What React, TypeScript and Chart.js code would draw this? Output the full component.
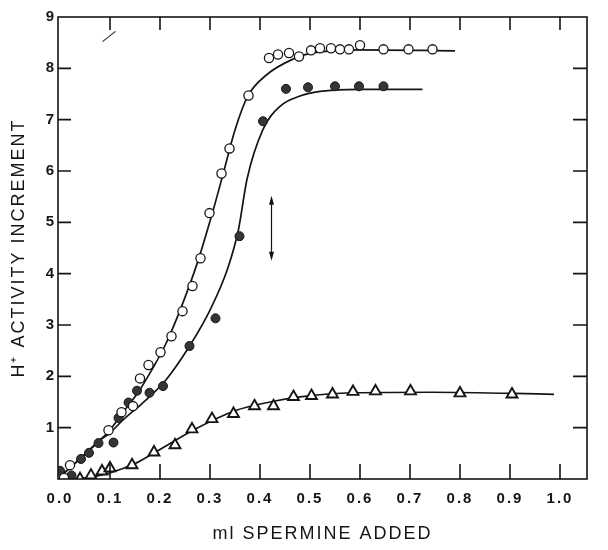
import { useEffect, useRef } from 'react';
import Chart from 'chart.js/auto';

// axis ticks
const xTicks = [0, 0.1, 0.2, 0.3, 0.4, 0.5, 0.6, 0.7, 0.8, 0.9, 1.0];
const yTicks = [0, 1, 2, 3, 4, 5, 6, 7, 8, 9];

// open circles
const openX = [0.008, 0.02, 0.097, 0.123, 0.146, 0.16, 0.177, 0.201, 0.223, 0.245, 0.265, 0.281, 0.299, 0.323, 0.339, 0.377, 0.418, 0.436, 0.458, 0.478, 0.502, 0.52, 0.542, 0.56, 0.578, 0.6, 0.647, 0.697, 0.745];
const openY = [0.02, 0.27, 0.95, 1.3, 1.42, 1.96, 2.22, 2.47, 2.78, 3.27, 3.76, 4.3, 5.18, 5.95, 6.44, 7.47, 8.2, 8.27, 8.3, 8.23, 8.35, 8.39, 8.39, 8.37, 8.37, 8.45, 8.37, 8.37, 8.37];

// filled circles
const filledX = [0.0, 0.023, 0.042, 0.058, 0.077, 0.107, 0.117, 0.137, 0.154, 0.179, 0.206, 0.259, 0.311, 0.359, 0.406, 0.452, 0.496, 0.55, 0.598, 0.647];
const filledY = [0.16, 0.07, 0.39, 0.51, 0.7, 0.71, 1.19, 1.49, 1.72, 1.68, 1.81, 2.59, 3.13, 4.73, 6.97, 7.6, 7.63, 7.65, 7.65, 7.65];

// triangles
const triX = [0.04, 0.062, 0.084, 0.1, 0.144, 0.188, 0.23, 0.264, 0.304, 0.347, 0.389, 0.427, 0.467, 0.503, 0.545, 0.586, 0.631, 0.701, 0.8, 0.904];
const triY = [0.0, 0.07, 0.15, 0.21, 0.27, 0.52, 0.66, 0.97, 1.17, 1.27, 1.42, 1.42, 1.6, 1.62, 1.65, 1.7, 1.71, 1.71, 1.67, 1.65];

// fitted curves
const curveAX = [0.002, 0.042, 0.078, 0.098, 0.126, 0.157, 0.185, 0.211, 0.241, 0.275, 0.305, 0.327, 0.35, 0.375, 0.414, 0.466, 0.5, 0.6, 0.79];
const curveAY = [0.06, 0.41, 0.74, 0.93, 1.3, 1.7, 2.15, 2.62, 3.31, 4.22, 5.19, 5.97, 6.8, 7.45, 7.88, 8.18, 8.29, 8.36, 8.34];
const curveBX = [0.002, 0.042, 0.078, 0.1, 0.125, 0.165, 0.211, 0.261, 0.301, 0.335, 0.357, 0.374, 0.406, 0.44, 0.48, 0.52, 0.6, 0.725];
const curveBY = [0.06, 0.41, 0.74, 0.9, 1.14, 1.48, 1.92, 2.62, 3.31, 4.09, 4.86, 5.84, 6.81, 7.26, 7.46, 7.55, 7.59, 7.59];
const curveCX = [0.04, 0.1, 0.15, 0.19, 0.27, 0.35, 0.42, 0.48, 0.586, 0.745, 0.988];
const curveCY = [0.0, 0.12, 0.3, 0.52, 0.97, 1.33, 1.5, 1.6, 1.68, 1.69, 1.65];

// double arrow (error range) and stray pen mark
const arrowX = [0.423, 0.423];
const arrowY = [4.25, 5.52];
const markX = [0.085, 0.111];
const markY = [8.52, 8.72];

const INK = '#151515';
const pts = (xs: number[], ys: number[]) => xs.map((x, i) => ({ x, y: ys[i] }));

const framePlugin = {
  id: 'frame',
  beforeDraw(chart: any) {
    chart.ctx.letterSpacing = '2px';
  },
  afterDatasetsDraw(chart: any) {
    const { ctx, chartArea, scales } = chart;
    const { left, right, top, bottom } = chartArea;
    const x = scales.x;
    const y = scales.y;
    ctx.save();
    ctx.strokeStyle = INK;
    ctx.lineWidth = 1.6;
    ctx.strokeRect(left, top, right - left, bottom - top);
    ctx.beginPath();
    xTicks.forEach((v) => {
      if (v === 0) return;
      const px = x.getPixelForValue(v);
      ctx.moveTo(px, bottom);
      ctx.lineTo(px, bottom - 15);
      ctx.moveTo(px, top);
      ctx.lineTo(px, top + 13);
    });
    yTicks.forEach((v) => {
      if (v === 0 || v === 9) return;
      const py = y.getPixelForValue(v);
      ctx.moveTo(left, py);
      ctx.lineTo(left + 13, py);
      ctx.moveTo(right, py);
      ctx.lineTo(right - 14, py);
    });
    ctx.stroke();

    // double-headed arrow
    const ax = x.getPixelForValue(arrowX[0]);
    const ay0 = y.getPixelForValue(arrowY[0]);
    const ay1 = y.getPixelForValue(arrowY[1]);
    ctx.lineWidth = 1.2;
    ctx.beginPath();
    ctx.moveTo(ax, ay0 - 4);
    ctx.lineTo(ax, ay1 + 4);
    ctx.stroke();
    ctx.fillStyle = INK;
    ctx.beginPath();
    ctx.moveTo(ax, ay1);
    ctx.lineTo(ax - 2.5, ay1 + 9);
    ctx.lineTo(ax + 2.5, ay1 + 9);
    ctx.closePath();
    ctx.moveTo(ax, ay0);
    ctx.lineTo(ax - 2.5, ay0 - 9);
    ctx.lineTo(ax + 2.5, ay0 - 9);
    ctx.closePath();
    ctx.fill();
    ctx.restore();
  },
};

const App = () => {
  const chartRef = useRef<HTMLCanvasElement>(null);
  const chartInstance = useRef<Chart | null>(null);

  useEffect(() => {
    document.body.style.margin = '0';
    const canvas = chartRef.current;
    if (!canvas) return;
    const ctx = canvas.getContext('2d');
    if (!ctx) return;
    if (chartInstance.current) chartInstance.current.destroy();

    const curve = (xs: number[], ys: number[]) => ({
      data: pts(xs, ys),
      showLine: true,
      borderColor: INK,
      borderWidth: 1.7,
      pointRadius: 0,
      tension: 0.4,
      cubicInterpolationMode: 'monotone' as const,
      order: 5,
    });

    chartInstance.current = new Chart(ctx, {
      type: 'scatter',
      data: {
        datasets: [
          {
            label: 'open',
            data: pts(openX, openY),
            pointStyle: 'circle',
            pointRadius: 4.6,
            backgroundColor: '#ffffff',
            borderColor: INK,
            borderWidth: 1.3,
            order: 1,
          },
          {
            label: 'filled',
            data: pts(filledX, filledY),
            pointStyle: 'circle',
            pointRadius: 4.5,
            backgroundColor: '#353535',
            borderColor: INK,
            borderWidth: 1,
            order: 1,
          },
          {
            label: 'triangle',
            data: pts(triX, triY),
            pointStyle: 'triangle',
            pointRadius: 6.3,
            backgroundColor: '#ffffff',
            borderColor: INK,
            borderWidth: 1.9,
            order: 1,
          },
          curve(curveAX, curveAY),
          curve(curveBX, curveBY),
          curve(curveCX, curveCY),
          {
            data: pts(markX, markY),
            showLine: true,
            borderColor: '#333',
            borderWidth: 1.2,
            pointRadius: 0,
            order: 5,
          },
        ],
      },
      options: {
        animation: false,
        responsive: true,
        maintainAspectRatio: false,
        layout: { padding: { left: 0, top: 17, right: 21, bottom: 0 } },
        plugins: {
          legend: { display: false },
          tooltip: { enabled: false },
        },
        scales: {
          x: {
            type: 'linear',
            min: -0.004,
            max: 1.054,
            afterBuildTicks: (scale: any) => {
              scale.ticks = xTicks.map((value) => ({ value }));
            },
            afterFit: (scale: any) => {
              scale.height = 71;
            },
            ticks: {
              autoSkip: false,
              maxRotation: 0,
              padding: 11,
              color: INK,
              font: { family: '"Liberation Sans", Arial, sans-serif', size: 15, weight: 'bold' },
              callback: (v: any) => Number(v).toFixed(1),
            },
            grid: { display: false, drawTicks: false },
            border: { display: false },
            title: {
              display: true,
              text: 'ml SPERMINE ADDED',
              color: INK,
              font: { family: '"Liberation Sans", Arial, sans-serif', size: 18 },
              padding: { top: 0, bottom: 5 },
            },
          },
          y: {
            type: 'linear',
            min: 0,
            max: 9,
            afterBuildTicks: (scale: any) => {
              scale.ticks = yTicks.map((value) => ({ value }));
            },
            afterFit: (scale: any) => {
              scale.width = 58;
            },
            ticks: {
              autoSkip: false,
              padding: 2,
              color: INK,
              font: { family: '"Liberation Sans", Arial, sans-serif', size: 15, weight: 'bold' },
              callback: (v: any) => (v === 0 ? '' : String(v)),
            },
            grid: { display: false, drawTicks: false },
            border: { display: false },
            title: {
              display: true,
              text: 'H⁺ ACTIVITY INCREMENT',
              color: INK,
              font: { family: '"Liberation Sans", Arial, sans-serif', size: 18 },
              padding: { top: 8, bottom: 0 },
            },
          },
        },
      },
      plugins: [framePlugin],
    });

    return () => {
      if (chartInstance.current) {
        chartInstance.current.destroy();
        chartInstance.current = null;
      }
    };
  }, []);

  return (
    <div style={{ position: 'relative', width: '608px', height: '550px', background: '#fff' }}>
      <canvas ref={chartRef}></canvas>
    </div>
  );
};

export default App;
